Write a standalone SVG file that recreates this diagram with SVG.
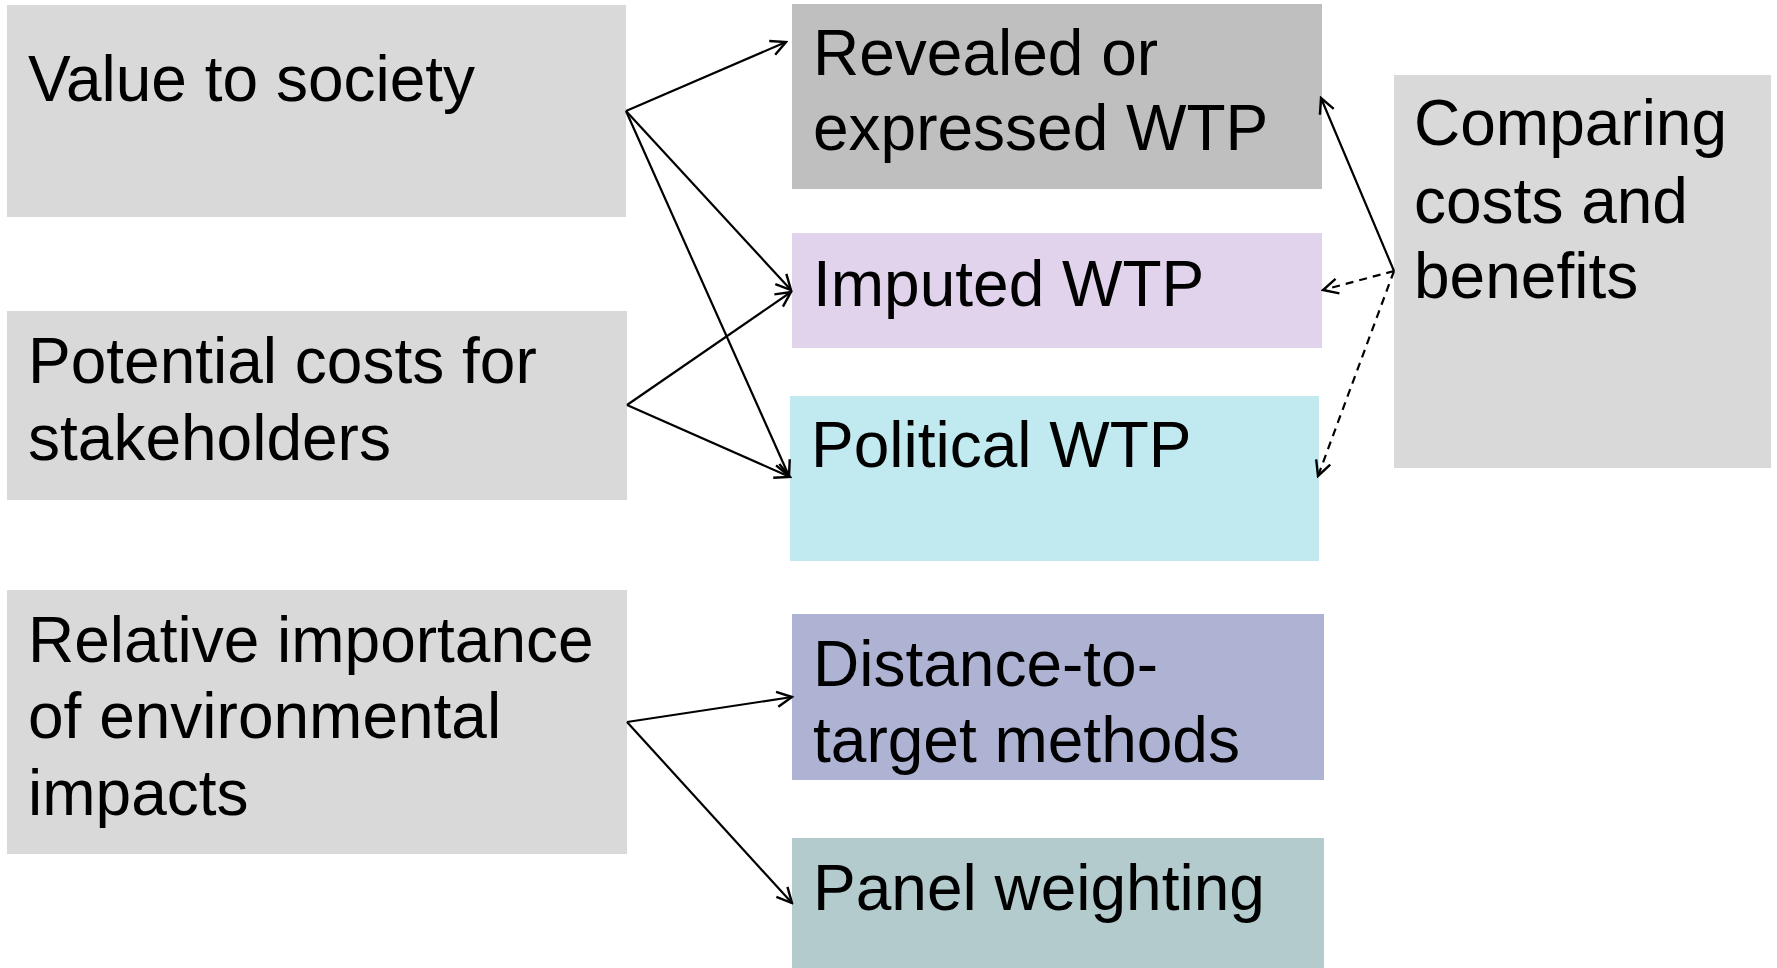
<svg xmlns="http://www.w3.org/2000/svg" width="1777" height="968" viewBox="0 0 1777 968">
<style>
text{font-family:"Liberation Sans",Arial,sans-serif;font-size:64px;fill:#000}
.c{fill:none;stroke:#000;stroke-width:2.2}
.d{stroke-dasharray:8 6}
</style>
<defs>
<marker id="ah" markerUnits="userSpaceOnUse" viewBox="-18 -10 20 20" markerWidth="20" markerHeight="20" refX="0" refY="0" orient="auto">
<path d="M-15,-7.5 L0,0 L-15,7.5" fill="none" stroke="#000" stroke-width="2.4"/>
</marker>
</defs>
<rect width="1777" height="968" fill="#fff"/>
<g id="value"><rect x="7" y="5" width="619" height="212" fill="#d9d9d9"/><text x="28" y="101">Value to society</text></g>
<g id="potential"><rect x="7" y="311" width="620" height="189" fill="#d9d9d9"/><text x="28" y="383">Potential costs for</text><text x="28" y="460">stakeholders</text></g>
<g id="relative"><rect x="7" y="590" width="620" height="264" fill="#d9d9d9"/><text x="28" y="662">Relative importance</text><text x="28" y="738">of environmental</text><text x="28" y="815">impacts</text></g>
<g id="revealed"><rect x="792" y="4" width="530" height="185" fill="#bfbfbf"/><text x="813" y="75">Revealed or</text><text x="813" y="150">expressed WTP</text></g>
<g id="imputed"><rect x="792" y="233" width="530" height="115" fill="#e0d3eb"/><text x="813" y="306">Imputed WTP</text></g>
<g id="political"><rect x="790" y="396" width="529" height="165" fill="#c1e9f0"/><text x="811" y="467">Political WTP</text></g>
<g id="distance"><rect x="792" y="614" width="532" height="166" fill="#afb3d3"/><text x="813" y="686">Distance-to-</text><text x="813" y="762">target methods</text></g>
<g id="panel"><rect x="792" y="838" width="532" height="130" fill="#b3cbcd"/><text x="813" y="910">Panel weighting</text></g>
<g id="comparing"><rect x="1394" y="75" width="377" height="393" fill="#d9d9d9"/><text x="1414" y="145">Comparing</text><text x="1414" y="223">costs and</text><text x="1414" y="298">benefits</text></g>
<g id="connectors">
<line class="c" x1="626" y1="111" x2="786" y2="42" marker-end="url(#ah)"/>
<line class="c" x1="626" y1="111" x2="791" y2="290" marker-end="url(#ah)"/>
<line class="c" x1="626" y1="111" x2="789" y2="476" marker-end="url(#ah)"/>
<line class="c" x1="627" y1="405" x2="791" y2="292" marker-end="url(#ah)"/>
<line class="c" x1="627" y1="405" x2="790" y2="477" marker-end="url(#ah)"/>
<line class="c" x1="627" y1="722" x2="792" y2="697" marker-end="url(#ah)"/>
<line class="c" x1="627" y1="722" x2="792" y2="903" marker-end="url(#ah)"/>
<line class="c" x1="1394" y1="271" x2="1321" y2="98" marker-end="url(#ah)"/>
<line class="c d" x1="1394" y1="271" x2="1323" y2="290" marker-end="url(#ah)"/>
<line class="c d" x1="1394" y1="271" x2="1318" y2="476" marker-end="url(#ah)"/>
</g>
</svg>
